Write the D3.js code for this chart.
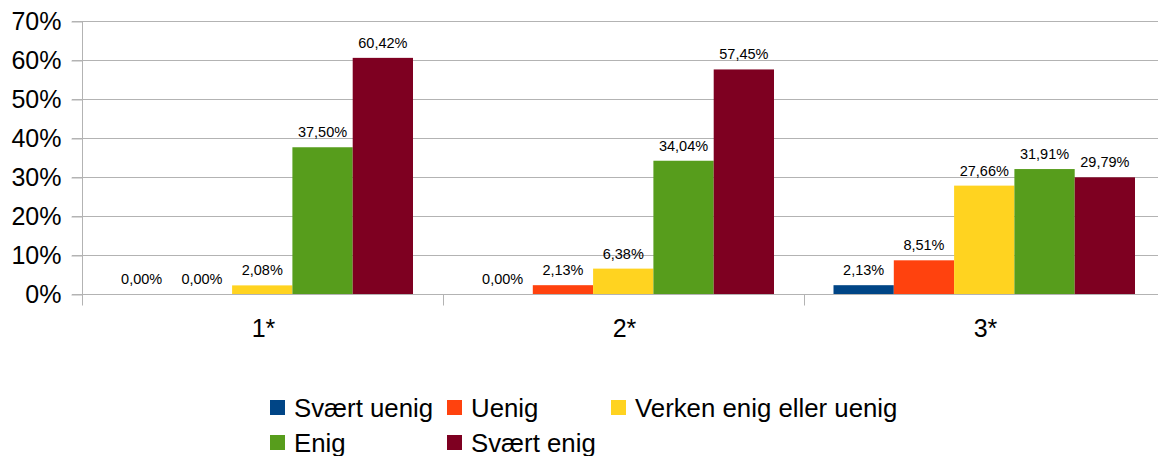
<!DOCTYPE html>
<html>
<head>
<meta charset="utf-8">
<script src="https://cdn.jsdelivr.net/npm/d3@7/dist/d3.min.js"></script>
<style>
  html, body { margin: 0; padding: 0; background: #fff; }
  svg { display: block; font-family: "Liberation Sans", Arial, sans-serif; }
</style>
</head>
<body>
<svg id="chart" width="1158" height="456"></svg>
<script>
// Categories along the x axis
const categories = ["1*", "2*", "3*"];

// Response options (series) and their colours
const seriesNames = ["Svært uenig", "Uenig", "Verken enig eller uenig", "Enig", "Svært enig"];
const seriesColors = ["#004586", "#ff420e", "#ffd320", "#579d1c", "#7e0021"];

// Percentages per series, one value per category
const svaertUenig = [0.00, 0.00, 2.13];
const uenig       = [0.00, 2.13, 8.51];
const verken      = [2.08, 6.38, 27.66];
const enig        = [37.50, 34.04, 31.91];
const svaertEnig  = [60.42, 57.45, 29.79];

// Y axis tick values
const yTicks = [0, 10, 20, 30, 40, 50, 60, 70];

const seriesValues = [svaertUenig, uenig, verken, enig, svaertEnig];

const svg = d3.select("#chart");

const plotLeft = 83, plotRight = 1166, plotTop = 21.5, plotBottom = 294.5;

const x0 = d3.scaleBand().domain(categories).range([plotLeft, plotRight]).padding(0);
const x1 = d3.scaleBand().domain(seriesNames).range([28.5, 330]).padding(0);
const y = d3.scaleLinear().domain([0, 70]).range([plotBottom, plotTop]);

const gridColor = "#b3b3b3";

// Horizontal gridlines
svg.append("g")
  .selectAll("line")
  .data(yTicks)
  .join("line")
  .attr("x1", plotLeft - 11)
  .attr("x2", plotRight)
  .attr("y1", d => y(d))
  .attr("y2", d => y(d))
  .attr("stroke", gridColor)
  .attr("stroke-width", 1);

// Y axis with percentage labels
const yAxis = svg.append("g")
  .attr("transform", `translate(${plotLeft - 0.5},0)`)
  .call(d3.axisLeft(y).tickValues(yTicks).tickFormat(d => d + "%").tickSize(11).tickPadding(10));
yAxis.select(".domain").remove();
yAxis.selectAll(".tick line").attr("stroke", gridColor);
yAxis.selectAll(".tick text")
  .attr("font-size", 25)
  .attr("fill", "#000")
  .attr("font-family", "'Liberation Sans', Arial, sans-serif");

// Vertical axis line
svg.append("line")
  .attr("x1", plotLeft - 0.5).attr("x2", plotLeft - 0.5)
  .attr("y1", plotTop).attr("y2", plotBottom + 11)
  .attr("stroke", gridColor);

// Category boundary ticks
svg.append("g")
  .selectAll("line")
  .data(categories)
  .join("line")
  .attr("x1", d => Math.round(x0(d) + x0.bandwidth()) - 0.5)
  .attr("x2", d => Math.round(x0(d) + x0.bandwidth()) - 0.5)
  .attr("y1", plotBottom)
  .attr("y2", plotBottom + 11)
  .attr("stroke", gridColor);

// Bars (top edge snapped one pixel up, as the renderer rounds bar extents outward)
const groups = svg.append("g")
  .selectAll("g")
  .data(categories)
  .join("g")
  .attr("transform", d => `translate(${x0(d)},0)`);

const barData = (cat, ci) => seriesNames.map((s, si) => ({ series: s, color: seriesColors[si], value: seriesValues[si][ci] }));

groups.each(function (cat, ci) {
  const g = d3.select(this);
  const data = barData(cat, ci);
  g.selectAll("rect")
    .data(data.filter(d => d.value > 0))
    .join("rect")
    .attr("x", d => x1(d.series))
    .attr("width", x1.bandwidth())
    .attr("y", d => y(d.value) - 1)
    .attr("height", d => plotBottom - y(d.value) + 1)
    .attr("fill", d => d.color);
  g.selectAll("text")
    .data(data)
    .join("text")
    .attr("x", d => x1(d.series) + x1.bandwidth() / 2)
    .attr("y", d => y(d.value) - 11)
    .attr("text-anchor", "middle")
    .attr("font-size", 14.5)
    .attr("fill", "#000")
    .text(d => d.value.toFixed(2).replace(".", ",") + "%");
});

// X axis line
svg.append("line")
  .attr("x1", plotLeft).attr("x2", plotRight)
  .attr("y1", plotBottom).attr("y2", plotBottom)
  .attr("stroke", gridColor);

// Category labels
const xAxis = svg.append("g")
  .attr("transform", `translate(0,${plotBottom})`)
  .call(d3.axisBottom(x0).tickSize(0).tickPadding(25));
xAxis.select(".domain").remove();
xAxis.selectAll(".tick text")
  .attr("font-size", 25)
  .attr("fill", "#000")
  .attr("font-family", "'Liberation Sans', Arial, sans-serif");

// Legend
const legendPos = [
  { x: 270, y: 400 },
  { x: 447, y: 400 },
  { x: 611, y: 400 },
  { x: 270, y: 435 },
  { x: 447, y: 435 }
];
const legend = svg.append("g")
  .selectAll("g")
  .data(seriesNames)
  .join("g")
  .attr("transform", (d, i) => `translate(${legendPos[i].x},${legendPos[i].y})`);
legend.append("rect")
  .attr("width", 15).attr("height", 15)
  .attr("fill", (d, i) => seriesColors[i]);
legend.append("text")
  .attr("x", 24)
  .attr("y", 17)
  .attr("font-size", 25.8)
  .attr("fill", "#000")
  .text(d => d);
</script>
</body>
</html>
